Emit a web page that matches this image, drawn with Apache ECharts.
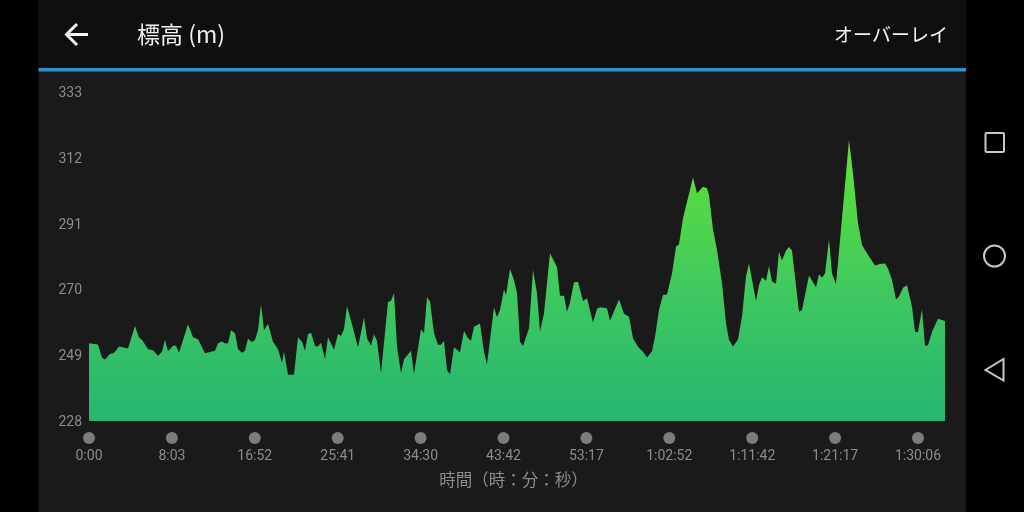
<!DOCTYPE html>
<html>
<head>
<meta charset="utf-8">
<style>
  html, body { margin: 0; padding: 0; background: #000; }
  #chart { width: 1024px; height: 512px; }
</style>
<script src="https://cdn.jsdelivr.net/npm/echarts@6/dist/echarts.min.js"></script>
</head>
<body>
<div id="chart"></div>
<script>
// サンプル位置（82.9サンプルごとに時刻ラベル）
const samplePos = [0,9,13,16,21,25,30,39,46,50,53,59,64,69,73,76,79,84,87,90,99,104,109,116,126,129,133,136,139,142,146,149,153,156,159,163,166,169,172,175,179,184,189,193,195,199,205,209,213,216,219,222,226,229,232,236,239,245,249,252,255,258,264,269,275,278,282,285,288,292,299,302,305,308,312,315,322,325,332,335,338,341,345,349,352,355,358,361,365,371,375,379,382,385,391,395,398,405,408,411,415,417,421,425,428,431,434,440,444,448,451,455,461,468,471,475,478,481,485,489,491,494,498,504,508,511,518,521,530,535,540,544,549,554,558,563,566,570,574,578,583,587,590,594,604,608,614,618,620,624,628,633,637,640,644,649,653,657,660,667,670,673,677,680,683,687,690,693,697,700,703,710,713,720,727,730,733,736,740,743,747,753,760,764,769,773,778,786,791,796,799,803,807,810,814,818,820,823,826,829,833,836,839,843,849,856];
// 標高 (m)
const elevation = [252.8,252.4,248.2,247.6,249.4,249.7,251.8,251.1,258.3,254.6,253.9,250.9,250.6,248.8,250.1,253.9,250.3,252.0,252.0,249.8,258.9,254.7,254.1,249.6,250.4,252.8,253.4,252.7,252.8,257.0,256.0,250.9,249.8,250.4,254.3,253.1,253.9,257.0,265.3,257.0,259.0,253.3,250.9,246.6,250.2,242.8,242.8,254.7,253.3,250.4,255.8,256.2,251.9,251.8,253.0,247.7,254.7,250.7,255.8,255.1,257.3,264.7,257.6,251.5,261.0,254.4,252.0,255.7,253.5,243.2,266.0,266.4,268.8,251.7,243.2,247.7,250.4,243.0,257.3,256.0,267.5,266.1,256.0,252.3,252.3,253.5,244.3,242.9,251.5,249.9,256.7,254.4,253.6,258.1,259.1,250.1,246.1,264.3,261.1,263.4,270.0,268.1,276.5,273.0,268.8,253.3,251.9,257.6,276.2,268.8,256.6,262.4,281.5,277.1,268.0,268.0,262.9,265.8,272.3,272.4,272.0,266.3,267.2,259.4,263.8,264.3,264.0,260.0,266.8,262.2,261.3,254.4,251.7,250.1,248.3,250.3,254.9,263.4,268.2,268.4,275.1,283.6,284.4,292.7,305.7,300.7,302.8,302.3,300.1,289.0,282.6,272.0,259.2,253.9,251.7,254.1,261.3,274.1,278.3,266.3,271.4,273.9,272.8,277.5,272.5,271.8,282.0,279.2,282.4,283.5,282.4,262.9,263.4,274.4,270.7,274.8,273.7,275.1,286.0,275.1,271.7,292.7,317.7,307.1,291.1,284.2,281.5,277.6,278.1,278.3,276.7,273.0,266.8,267.7,270.5,271.3,270.7,264.5,256.5,256.3,263.7,251.9,252.2,256.5,260.6,259.9];

const yTicks = [228,249,270,291,312,333];
const timeLabels = ['0:00','8:03','16:52','25:41','34:30','43:42','53:17','1:02:52','1:11:42','1:21:17','1:30:06'];
const labelStep = 82.9;
const xTicks = timeLabels.map((t, i) => i * labelStep);

const gray = '#8c8c8c';
const iconColor = '#c8c8c8';

const chart = echarts.init(document.getElementById('chart'));

const option = {
    backgroundColor: '#000',
    animation: false,
    grid: { left: 89, top: 92, width: 856, height: 329 },
    xAxis: {
        type: 'value',
        min: 0,
        max: 856,
        splitLine: { show: false },
        axisLine: { show: false },
        axisTick: { show: false },
        axisLabel: {
            customValues: xTicks,
            margin: 28,
            color: gray,
            fontFamily: 'Roboto',
            fontSize: 14,
            hideOverlap: false,
            showMaxLabel: true,
            formatter: (v) => timeLabels[Math.round(v / labelStep)]
        },
        name: '時間（時：分：秒）',
        nameLocation: 'middle',
        nameGap: 50,
        nameTextStyle: {
            color: gray,
            fontFamily: 'Noto Sans CJK JP',
            fontSize: 16.5,
            padding: [0, 7, 0, 0]
        }
    },
    yAxis: {
        type: 'value',
        min: 228,
        max: 333,
        splitLine: { show: false },
        axisLine: { show: false },
        axisTick: { show: false },
        axisLabel: {
            customValues: yTicks,
            margin: 7,
            color: gray,
            fontFamily: 'Roboto',
            fontSize: 14,
            verticalAlign: 'top',
            lineHeight: 3
        }
    },
    series: [
        {
            name: '標高',
            type: 'line',
            showSymbol: false,
            lineStyle: { width: 0 },
            areaStyle: {
                opacity: 1,
                color: new echarts.graphic.LinearGradient(0, 0, 0, 1, [
                    { offset: 0, color: '#62e136' },
                    { offset: 0.55, color: '#3fc85f' },
                    { offset: 1, color: '#25b572' }
                ])
            },
            data: samplePos.map((p, i) => [p, elevation[i]])
        },
        {
            // 時刻ラベル上の丸
            type: 'scatter',
            symbolSize: 12,
            symbolOffset: [0, 17],
            clip: false,
            silent: true,
            itemStyle: { color: '#959595' },
            data: xTicks.map((x) => [x, yTicks[0]])
        }
    ],
    graphic: [
        { type: 'rect', z: 0, shape: { x: 38.5, y: 0, width: 927.5, height: 512 }, style: { fill: '#1a1a1a' } },
        { type: 'rect', z: 0, shape: { x: 38.5, y: 0, width: 927.5, height: 68 }, style: { fill: '#0f0f0f' } },
        { type: 'rect', z: 1, shape: { x: 38.5, y: 68, width: 927.5, height: 3.5 }, style: { fill: '#2a93cb' } },
        { type: 'polyline', z: 1, shape: { points: [[77, 24], [66.5, 34.5], [77, 45]] }, style: { stroke: '#f5f5f5', lineWidth: 3, fill: null } },
        { type: 'line', z: 1, shape: { x1: 67, y1: 34.5, x2: 88, y2: 34.5 }, style: { stroke: '#f5f5f5', lineWidth: 3 } },
        { type: 'text', z: 1, x: 137, y: 34.5, style: { text: '標高 (m)', fill: '#f2f2f2', font: '23px "Noto Sans CJK JP"', textVerticalAlign: 'middle' } },
        { type: 'text', z: 1, x: 948, y: 35, style: { text: 'オーバーレイ', fill: '#f2f2f2', font: '19px "Noto Sans CJK JP"', textAlign: 'right', textVerticalAlign: 'middle' } },
        { type: 'rect', z: 1, shape: { x: 985.5, y: 133, width: 18.5, height: 19, r: 1 }, style: { stroke: iconColor, lineWidth: 2, fill: null } },
        { type: 'circle', z: 1, shape: { cx: 994.5, cy: 256, r: 10.5 }, style: { stroke: iconColor, lineWidth: 2, fill: null } },
        { type: 'polygon', z: 1, shape: { points: [[1003.5, 359], [985.5, 370], [1003.5, 380.5]] }, style: { stroke: iconColor, lineWidth: 2, fill: null } }
    ]
};

chart.setOption(option);
</script>
</body>
</html>
